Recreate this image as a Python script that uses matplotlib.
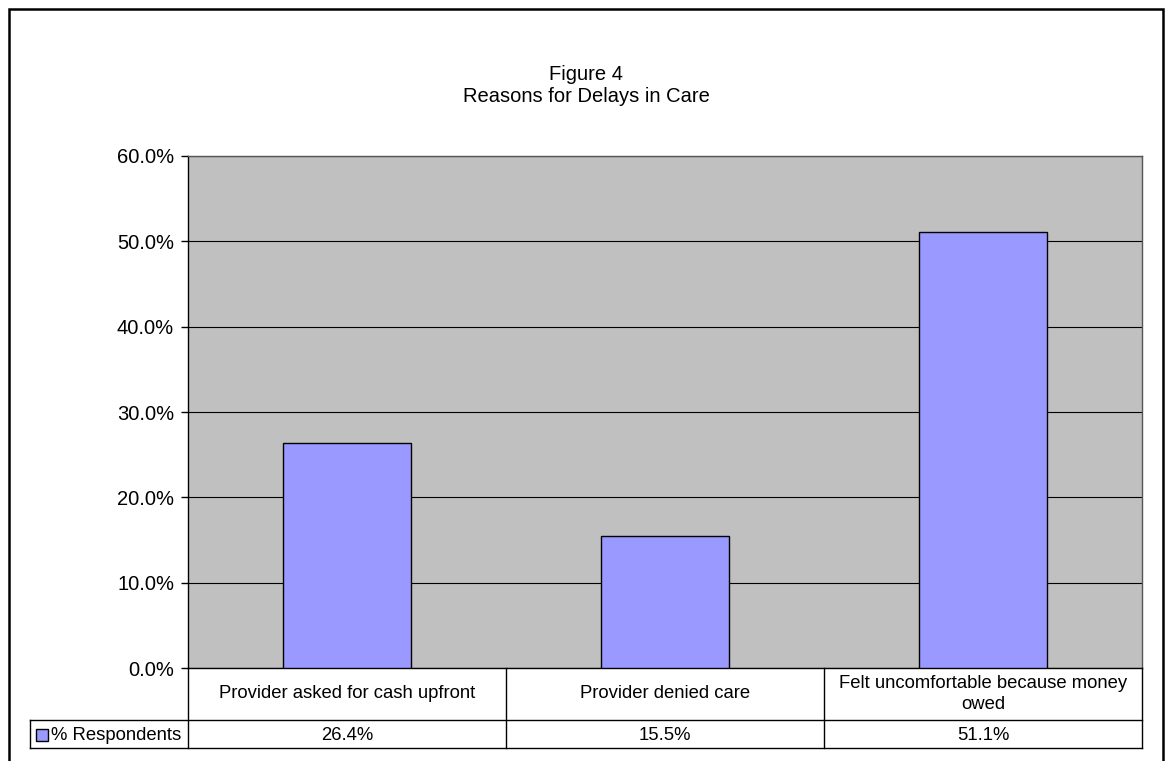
#!/usr/bin/env python3
"""
Figure 4 - Reasons for Delays in Care
Excel style bar chart with a data table under the plot area
"""

import textwrap

import matplotlib
matplotlib.use('Agg')
import matplotlib.pyplot as plt
from matplotlib.lines import Line2D
from matplotlib.patches import Rectangle
from matplotlib.ticker import FuncFormatter, MultipleLocator
import matplotlib.transforms as mtransforms

# Data
categories = ['Provider asked for cash upfront',
              'Provider denied care',
              'Felt uncomfortable because money owed']
respondents = [0.264, 0.155, 0.511]
series_name = '% Respondents'
title_lines = ['Figure 4', 'Reasons for Delays in Care']

W, H = 1165, 761
plt.rcParams['font.family'] = ['Liberation Sans', 'DejaVu Sans']

bar_color = '#9999FF'
plot_bg = '#C0C0C0'
fs = 14.5        # title and axis labels
fs_tab = 13.3    # data table


def fx(px):
    return px / W


def fy(py):
    return 1 - py / H


fig = plt.figure(figsize=(W / 100, H / 100), dpi=100)

# plot area (pixel box 188..1142 x 156..668)
ax = fig.add_axes([fx(188), fy(668), fx(1142) - fx(188), fy(156) - fy(668)])
ax.set_facecolor(plot_bg)
x = list(range(len(categories)))
ax.bar(x, respondents, width=0.4, color=bar_color, edgecolor='black',
       linewidth=1, zorder=3)
ax.set_xlim(-0.5, len(categories) - 0.5)
ax.set_ylim(0, 0.6)
ax.yaxis.set_major_locator(MultipleLocator(0.1))
ax.yaxis.set_major_formatter(FuncFormatter(lambda v, p: f'{v:.1%}'))
ax.grid(axis='y', color='black', linewidth=0.8, zorder=1)
ax.set_axisbelow(True)
ax.tick_params(axis='y', direction='out', length=5, width=1, pad=5,
               labelsize=fs, color='black')
ax.tick_params(axis='x', length=0, labelbottom=False)
for s in ax.spines.values():
    s.set_color('black')
    s.set_linewidth(1)
ax.spines['top'].set_color('#555555')
ax.spines['right'].set_color('#555555')

# title
fig.text(fx(586), fy(75), title_lines[0], ha='center', va='center', fontsize=fs)
fig.text(fx(586), fy(97), title_lines[1], ha='center', va='center', fontsize=fs)

# data table below the plot area
blend = mtransforms.blended_transform_factory(ax.transData, fig.transFigure)
edges = [i - 0.5 for i in range(len(categories) + 1)]
row_top, row_mid, row_bot = fy(668), fy(720), fy(748)
lw = 1.0
for e in edges:
    fig.add_artist(Line2D([e, e], [row_top, row_bot], transform=blend,
                          color='black', linewidth=lw))
fig.add_artist(Line2D([fx(30), fx(1142)], [row_mid, row_mid],
                      transform=fig.transFigure, color='black', linewidth=lw))
fig.add_artist(Line2D([fx(30), fx(1142)], [row_bot, row_bot],
                      transform=fig.transFigure, color='black', linewidth=lw))
fig.add_artist(Line2D([fx(30), fx(30)], [row_mid, row_bot],
                      transform=fig.transFigure, color='black', linewidth=lw))

for i, (cat, val) in enumerate(zip(categories, respondents)):
    fig.text(i, fy(694), textwrap.fill(cat, 32), transform=blend,
             ha='center', va='center', fontsize=fs_tab, linespacing=1.25)
    fig.text(i, fy(735), f'{val:.1%}', transform=blend,
             ha='center', va='center', fontsize=fs_tab)

# legend key in the table
fig.add_artist(Rectangle((fx(36), fy(741)), fx(12), fy(729) - fy(741),
                         transform=fig.transFigure, facecolor=bar_color,
                         edgecolor='black', linewidth=1))
fig.text(fx(51), fy(735), series_name, ha='left', va='center', fontsize=fs_tab)

# chart border
fig.add_artist(Rectangle((fx(9), fy(770)), fx(1163) - fx(9), fy(9) - fy(770),
                         transform=fig.transFigure, facecolor='none',
                         edgecolor='black', linewidth=1.8))

fig.savefig('out.png', dpi=100, facecolor='white')
